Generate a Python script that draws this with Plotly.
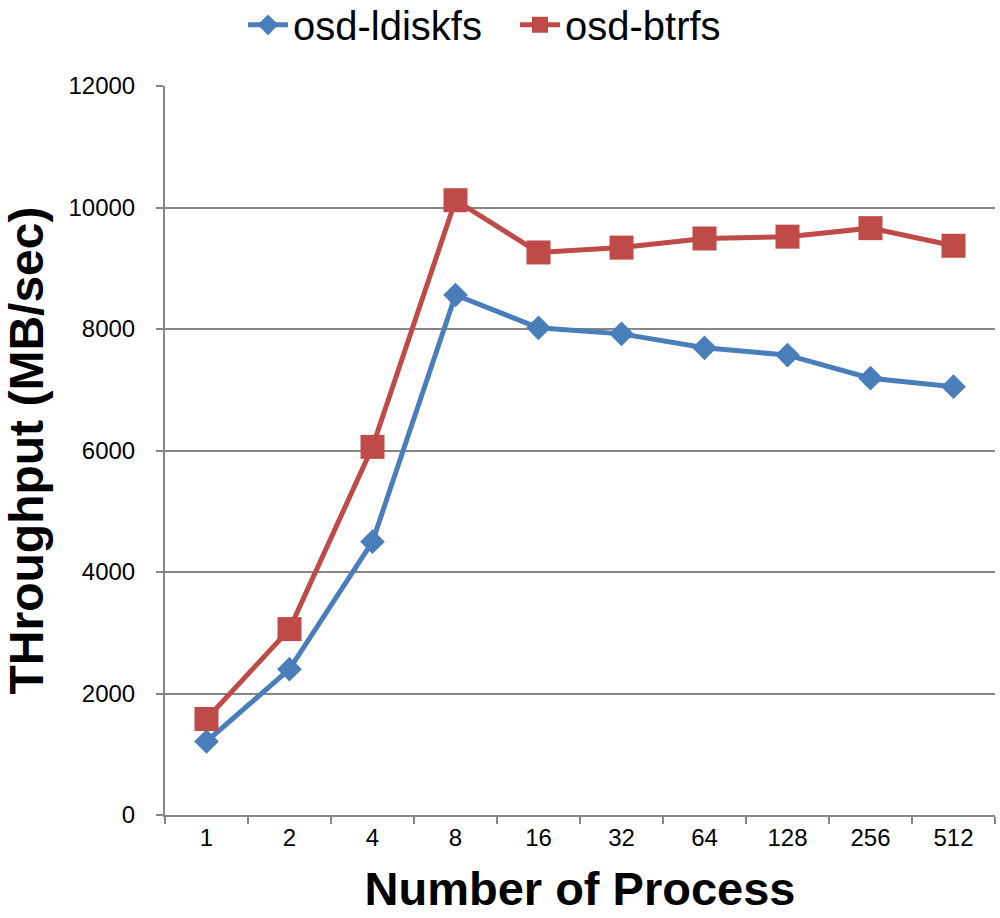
import plotly.graph_objects as go

# Process counts (categorical x axis)
processes = ["1", "2", "4", "8", "16", "32", "64", "128", "256", "512"]

# Throughput in MB/sec
ldiskfs = [1210, 2400, 4500, 8560, 8020, 7920, 7690, 7570, 7190, 7050]
btrfs = [1580, 3060, 6060, 10120, 9260, 9340, 9490, 9520, 9660, 9370]

BLUE = "#4a7ebb"
RED = "#be4b48"
GRID = "#868686"
FONT = "Liberation Sans, Arial, sans-serif"

fig = go.Figure()
fig.add_trace(go.Scatter(
    x=processes, y=ldiskfs, name="osd-ldiskfs", mode="lines+markers",
    line=dict(color=BLUE, width=5),
    marker=dict(symbol="diamond", size=19, color=BLUE),
))
fig.add_trace(go.Scatter(
    x=processes, y=btrfs, name="osd-btrfs", mode="lines+markers",
    line=dict(color=RED, width=5),
    marker=dict(symbol="square", size=24, color=RED),
))

fig.update_layout(
    width=1000, height=918,
    margin=dict(l=165, r=5, t=86, b=103, autoexpand=False),
    paper_bgcolor="white", plot_bgcolor="white",
    font=dict(family=FONT, color="black"),
    legend=dict(
        orientation="h", xref="container", yref="container",
        x=0.515, xanchor="center", y=0.973, yanchor="middle",
        font=dict(size=40, family=FONT), itemwidth=40, tracegroupgap=0,
        entrywidth=217, entrywidthmode="pixels",
        bgcolor="rgba(0,0,0,0)",
    ),
    showlegend=True,
)

fig.update_xaxes(
    type="category", range=[-0.5, len(processes) - 0.5],
    tickson="boundaries", ticks="outside", ticklen=7,
    tickcolor=GRID, tickwidth=2,
    showline=True, linecolor=GRID, linewidth=2,
    showgrid=False, tickfont=dict(size=24, family=FONT),
    title=dict(text="<b>Number of Process</b>", font=dict(size=47, family=FONT), standoff=22),
)
fig.update_yaxes(
    range=[0, 12000], dtick=2000, tickformat="d", ticks="outside", ticklen=7,
    tickcolor=GRID, tickwidth=2,
    showline=True, linecolor=GRID, linewidth=2,
    showgrid=True, gridcolor=GRID, gridwidth=2, zeroline=False,
    tickfont=dict(size=24, family=FONT), ticklabelstandoff=16,
    title=dict(text="<b>THroughput (MB/sec)</b>", font=dict(size=48, family=FONT), standoff=12),
)

fig.write_html("out.html")
